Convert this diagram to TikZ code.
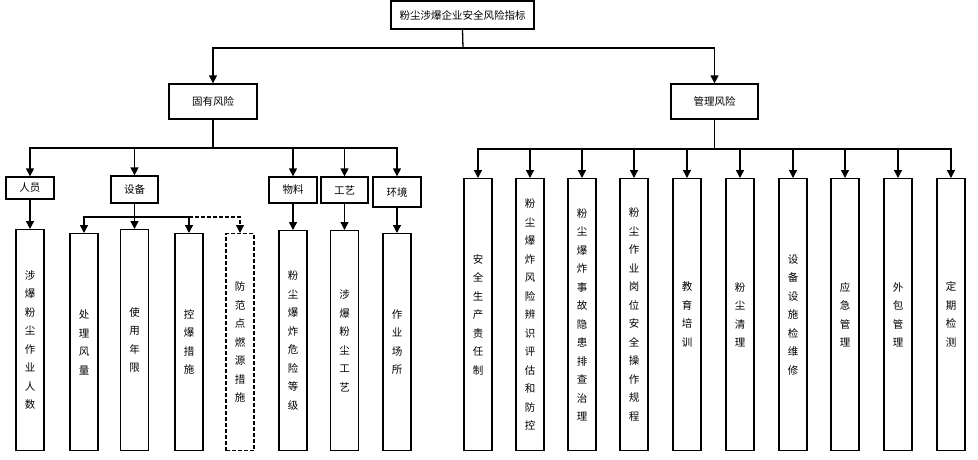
\documentclass[tikz,border=0pt]{standalone}
\usepackage{fontspec}
\newfontfamily\cjk{Noto Sans CJK SC}
\usetikzlibrary{arrows.meta}

\tikzset{
  box/.style={draw, line width=1.3pt, inner sep=0pt,
    font=\cjk\fontsize{10.5}{12}\selectfont},
  tallbox/.style={box, anchor=north, minimum width=28pt, minimum height=#1,
    align=center, font=\cjk\fontsize{10.5}{18.5}\selectfont},
  link/.style={line width=1.3pt, -{Triangle[width=8pt,length=8pt]}},
}

\begin{document}
\begin{tikzpicture}
    [x=1pt,y=-1pt]
    \useasboundingbox (0,0) rectangle (978,459);
    % top levels
    \node[box, minimum width=143pt, minimum height=28pt] (top) at (462.5,15) {粉尘涉爆企业安全风险指标};
    \node[box, minimum width=88pt, minimum height=35pt] (inherent) at (213,101.5) {固有风险};
    \node[box, minimum width=87pt, minimum height=35pt] (manage) at (714.5,101.5) {管理风险};
    \coordinate (topbus) at (463,48);
    \draw[line width=1.3pt] (top.south) -- (topbus);
    \draw[link] (topbus) -| (inherent.north);
    \draw[link] (topbus) -| (manage.north);

    % inherent risk
    \node[box, minimum width=48pt, minimum height=22pt] (person) at (30,188) {人员};
    \node[box, minimum width=47pt, minimum height=27pt] (equip) at (134.5,189.5) {设备};
    \node[box, minimum width=48pt, minimum height=26pt] (material) at (293,190) {物料};
    \node[box, minimum width=47pt, minimum height=26pt] (craft) at (344.5,190) {工艺};
    \node[box, minimum width=48pt, minimum height=30pt] (envir) at (397,192) {环境};
    \coordinate (inbus) at (213,148);
    \draw[line width=1.3pt] (inherent.south) -- (inbus);
    \foreach \n in {person,equip,material,craft,envir}
      \draw[link] (inbus) -| (\n.north);

    \node[tallbox=221pt] (person1) at (30,229) {涉\\爆\\粉\\尘\\作\\业\\人\\数};
    \node[tallbox=217pt] (equip1) at (84,233) {处\\理\\风\\量};
    \node[tallbox=221pt] (equip2) at (134.5,229) {使\\用\\年\\限};
    \node[tallbox=217pt] (equip3) at (189,233) {控\\爆\\措\\施};
    \node[tallbox=217pt, dashed, dash pattern=on 4pt off 2pt] (equip4) at (240,233) {防\\范\\点\\燃\\源\\措\\施};
    \node[tallbox=220pt] (material1) at (293,230) {粉\\尘\\爆\\炸\\危\\险\\等\\级};
    \node[tallbox=220pt] (craft1) at (344.5,230) {涉\\爆\\粉\\尘\\工\\艺};
    \node[tallbox=217pt] (envir1) at (397,233) {作\\业\\场\\所};

    \draw[link] (person.south) -- (person1.north);
    \draw[link] (material.south) -- (material1.north);
    \draw[link] (craft.south) -- (craft1.north);
    \draw[link] (envir.south) -- (envir1.north);
    \coordinate (eqbus) at (134.5,217);
    \draw[line width=1.3pt] (equip.south) -- (eqbus);
    \foreach \n in {equip1,equip2,equip3}
      \draw[link] (eqbus) -| (\n.north);
    \draw[link, dashed, dash pattern=on 4pt off 2pt] (equip3.north |- eqbus) -| (equip4.north);

    % management risk
    \coordinate (mgbus) at (714.5,149);
    \draw[line width=1.3pt] (manage.south) -- (mgbus);
    \foreach \x/\t [count=\i] in {
        478/{安\\全\\生\\产\\责\\任\\制},
        530/{粉\\尘\\爆\\炸\\风\\险\\辨\\识\\评\\估\\和\\防\\控},
        582/{粉\\尘\\爆\\炸\\事\\故\\隐\\患\\排\\查\\治\\理},
        634/{粉\\尘\\作\\业\\岗\\位\\安\\全\\操\\作\\规\\程},
        687/{教\\育\\培\\训},
        740/{粉\\尘\\清\\理},
        793/{设\\备\\设\\施\\检\\维\\修},
        845/{应\\急\\管\\理},
        898/{外\\包\\管\\理},
        951/{定\\期\\检\\测}} {
      \node[tallbox=272pt] (manage\i) at (\x,178) {\t};
      \draw[link] (mgbus) -| (manage\i.north);
    }
\end{tikzpicture}
\end{document}
